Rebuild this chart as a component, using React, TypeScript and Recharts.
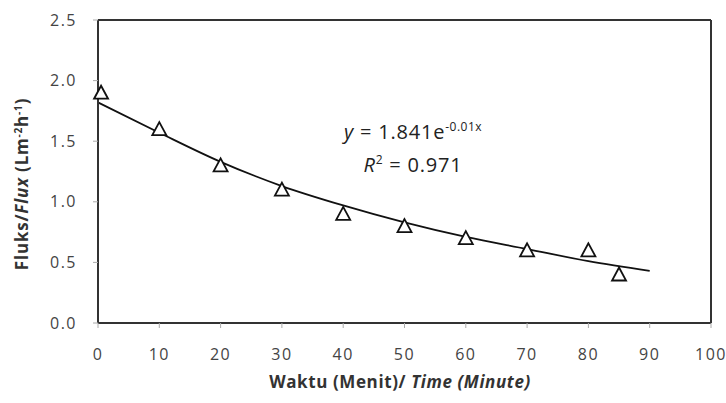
import React from "react";
import {
  ComposedChart,
  Scatter,
  Line,
  XAxis,
  YAxis,
  ReferenceLine,
} from "recharts";

// observed flux
const timeMin = [0.5, 10, 20, 30, 40, 50, 60, 70, 80, 85];
const fluxVals = [1.9, 1.6, 1.3, 1.1, 0.9, 0.8, 0.7, 0.6, 0.6, 0.4];

// exponential trendline
const trendX = [0, 10, 20, 30, 40, 50, 60, 70, 80, 90];
const trendY = [1.82, 1.57, 1.33, 1.13, 0.97, 0.83, 0.71, 0.61, 0.51, 0.43];

const xTicks = [0, 10, 20, 30, 40, 50, 60, 70, 80, 90, 100];
const yTicks = [0, 0.5, 1, 1.5, 2, 2.5];

const points = timeMin.map((x, i) => ({ x, y: fluxVals[i] }));
const trend = trendX.map((x, i) => ({ x, t: trendY[i] }));

const font = "'Open Sans', 'DejaVu Sans', sans-serif";
const tickStyle = { fill: "#444", fontSize: 16, fontFamily: font, letterSpacing: 1.5 };

// hollow triangle marker
const Triangle = (props: any) => {
  const { cx, cy } = props;
  if (cx == null || cy == null) return null;
  const w = 7;
  const h = 12;
  return (
    <polygon
      points={`${cx},${cy - h / 2 - 1} ${cx - w},${cy + h / 2} ${cx + w},${cy + h / 2}`}
      fill="#fff"
      stroke="#111"
      strokeWidth={1.8}
    />
  );
};

const YLabel = () => (
  <text
    x={0}
    y={0}
    transform="translate(28,184) rotate(-90)"
    textAnchor="middle"
    fontFamily={font}
    fontSize={17}
    fontWeight={700}
    letterSpacing={0.8}
    fill="#333"
  >
    Fluks/<tspan fontStyle="italic">Flux</tspan> (Lm
    <tspan fontSize={10} dy={-6}>-2</tspan>
    <tspan dy={6}>h</tspan>
    <tspan fontSize={10} dy={-6}>-1</tspan>
    <tspan dy={6}>)</tspan>
  </text>
);

const XLabel = () => (
  <text
    x={400}
    y={388}
    textAnchor="middle"
    fontFamily={font}
    fontSize={17}
    fontWeight={700}
    letterSpacing={0.6}
    fill="#333"
  >
    Waktu (Menit)/ <tspan fontStyle="italic">Time (Minute)</tspan>
  </text>
);

export default function App() {
  return (
    <div style={{ position: "absolute", left: 0, top: 0, background: "#fff" }}>
      <ComposedChart
        width={726}
        height={403}
        margin={{ top: 20, right: 15, bottom: 0, left: 0 }}
      >
        <XAxis
          type="number"
          dataKey="x"
          domain={[0, 100]}
          ticks={xTicks}
          interval={0}
          tick={tickStyle}
          tickMargin={21}
          tickSize={5}
          tickLine={{ stroke: "#aaa" }}
          axisLine={{ stroke: "#333", strokeWidth: 2 }}
          height={80}
          label={<XLabel />}
        />
        <YAxis
          type="number"
          domain={[0, 2.5]}
          ticks={yTicks}
          interval={0}
          tickFormatter={(v: number) => v.toFixed(1)}
          tick={tickStyle}
          tickMargin={16}
          tickSize={5}
          tickLine={{ stroke: "#aaa" }}
          axisLine={{ stroke: "#333", strokeWidth: 2 }}
          width={98}
          label={<YLabel />}
        />
        <ReferenceLine y={2.5} stroke="#333" strokeWidth={2} />
        <ReferenceLine x={100} stroke="#333" strokeWidth={2} />
        <Line
          data={trend}
          dataKey="t"
          type="monotone"
          stroke="#111"
          strokeWidth={1.8}
          dot={false}
          activeDot={false}
          isAnimationActive={false}
        />
        <Scatter
          data={points}
          dataKey="y"
          shape={<Triangle />}
          isAnimationActive={false}
        />
      </ComposedChart>
      <div
        style={{
          position: "absolute",
          left: 313,
          top: 113,
          width: 200,
          textAlign: "center",
          fontFamily: font,
          fontSize: 20,
          letterSpacing: 0.8,
          color: "#222",
          lineHeight: "28px",
        }}
      >
        <div>
          <i>y</i> = 1.841e
          <sup style={{ fontSize: 12, letterSpacing: 0.5 }}>-0.01x</sup>
        </div>
        <div>
          <i>R</i>
          <sup style={{ fontSize: 12 }}>2</sup> = 0.971
        </div>
      </div>
    </div>
  );
}
